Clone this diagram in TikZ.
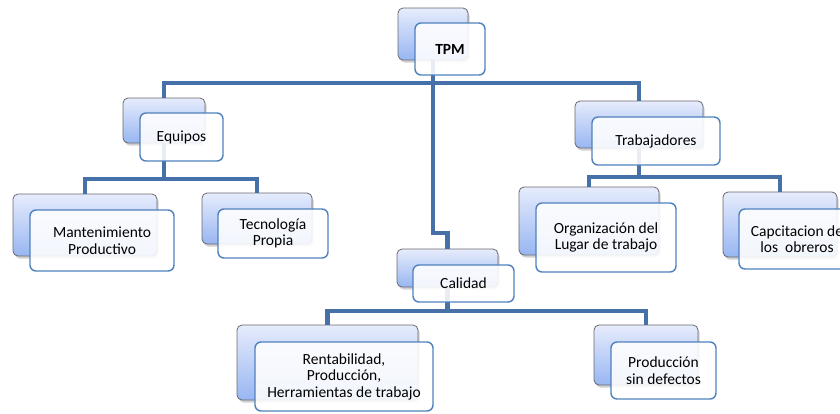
\documentclass[tikz,border=0pt]{standalone}
\usepackage{fontspec}
\setmainfont{Carlito}
\usetikzlibrary{shadows}
\definecolor{connblue}{RGB}{70,112,168}
\definecolor{frontline}{RGB}{79,129,189}
\definecolor{backline}{RGB}{105,105,110}
\definecolor{backtop}{RGB}{230,236,252}
\definecolor{backbot}{RGB}{152,182,242}
\tikzset{
  backbox/.style={rectangle, rounded corners=5pt, draw=backline, line width=0.8pt,
    top color=backtop, bottom color=backbot, inner sep=0pt, outer sep=0pt,
    drop shadow={shadow xshift=1.5pt, shadow yshift=-2.5pt, opacity=0.3, fill=black!60}},
  frontbox/.style={rectangle, rounded corners=6pt, draw=frontline, line width=1.4pt,
    fill=white, fill opacity=0.88, text opacity=1, inner sep=0pt, outer sep=0pt,
    align=center, font=\fontsize{15.5}{16.5}\selectfont},
  conn/.style={draw=connblue, line width=4.5pt, line join=miter}
}
\begin{document}
\begin{tikzpicture}[x=1pt,y=-1pt]
\path[use as bounding box] (0,0) rectangle (840,413);
\clip (0,0) rectangle (840,413);
% bus coordinates
\coordinate (bus1) at (433,83);
\coordinate (jog) at (433,233);
\coordinate (bus2) at (164,179);
\coordinate (bus3) at (639,177);
\coordinate (bus4) at (447.5,311);
% back boxes
\node[backbox, minimum width=70pt, minimum height=52pt] (tpmB) at (433,34) {};
\node[backbox, minimum width=82pt, minimum height=45pt] (equB) at (164,120.5) {};
\node[backbox, minimum width=128pt, minimum height=47pt] (traB) at (639,124.5) {};
\node[backbox, minimum width=144pt, minimum height=62pt] (manB) at (85,225) {};
\node[backbox, minimum width=110pt, minimum height=51pt] (tecB) at (257,218.5) {};
\node[backbox, minimum width=140pt, minimum height=68pt] (orgB) at (589,221) {};
\node[backbox, minimum width=114pt, minimum height=65pt] (capB) at (780,224.5) {};
\node[backbox, minimum width=101pt, minimum height=38pt] (calB) at (447.5,268) {};
\node[backbox, minimum width=181pt, minimum height=75pt] (renB) at (327.5,362.5) {};
\node[backbox, minimum width=104pt, minimum height=60pt] (proB) at (646,355) {};
% connectors
\draw[conn] (tpmB.south) -- (bus1);
\draw[conn] (equB.north) |- (bus1) -| (traB.north);
\draw[conn] (bus1) -- (jog) -| (calB.north);
\draw[conn] (equB.south) -- (bus2);
\draw[conn] (manB.north) |- (bus2) -| (tecB.north);
\draw[conn] (traB.south) -- (bus3);
\draw[conn] (orgB.north) |- (bus3) -| (capB.north);
\draw[conn] (calB.south) -- (bus4);
\draw[conn] (renB.north) |- (bus4) -| (proB.north);
% front boxes
\node[frontbox, minimum width=70pt, minimum height=52pt] (tpm) at (450,49) {\textbf{TPM}};
\node[frontbox, minimum width=83pt, minimum height=48pt] (equ) at (181.5,137) {Equipos};
\node[frontbox, minimum width=128pt, minimum height=48pt] (tra) at (656,141) {Trabajadores};
\node[frontbox, minimum width=144pt, minimum height=61pt] (man) at (102,240.5) {Mantenimiento\\Productivo};
\node[frontbox, minimum width=110pt, minimum height=49pt] (tec) at (273,233.5) {Tecnología\\Propia};
\node[frontbox, minimum width=140pt, minimum height=69pt] (org) at (606,237.5) {Organización del\\Lugar de trabajo};
\node[frontbox, minimum width=116pt, minimum height=60pt] (cap) at (797,239) {Capcitacion de\\los~~obreros};
\node[frontbox, minimum width=101pt, minimum height=37pt] (cal) at (463.5,283.5) {Calidad};
\node[frontbox, minimum width=178pt, minimum height=69pt] (ren) at (344,376.5) {Rentabilidad,\\Producción,\\Herramientas de trabajo};
\node[frontbox, minimum width=105pt, minimum height=57pt] (pro) at (663.5,370.5) {Producción\\sin defectos};
\end{tikzpicture}
\end{document}
